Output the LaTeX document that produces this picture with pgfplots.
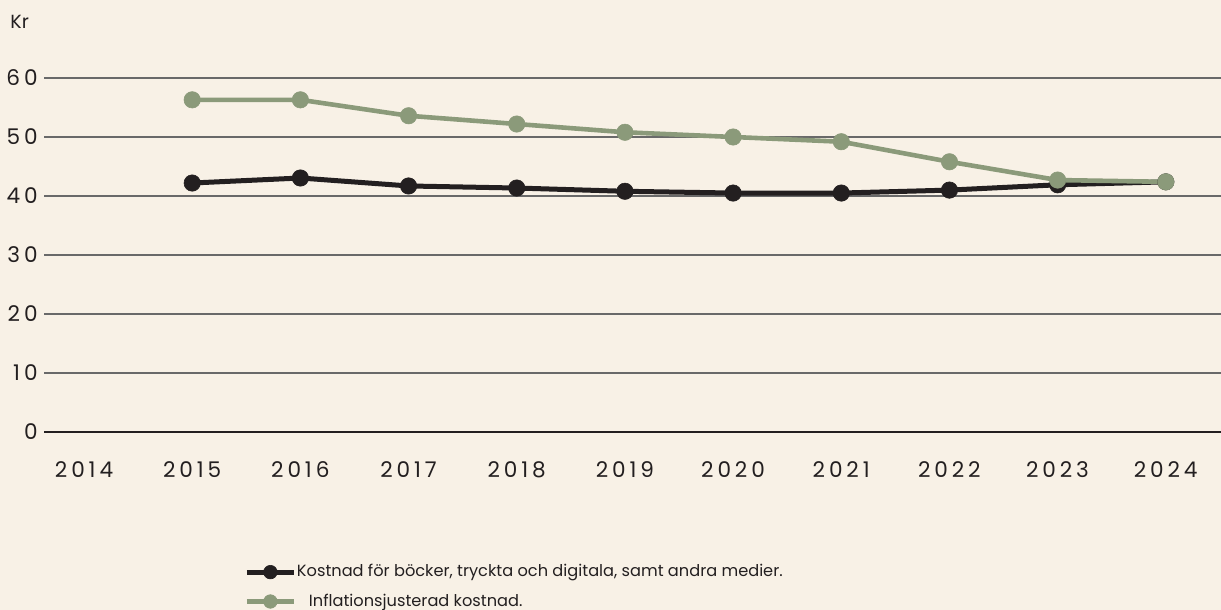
\documentclass[border=0pt]{standalone}
\usepackage{fontspec}
\setmainfont{Poppins}
\newfontfamily\tickfont[LetterSpace=18]{Poppins}
\usepackage{pgfplots}
\pgfplotsset{compat=1.18}
\definecolor{bg}{RGB}{248,241,230}
\definecolor{ink}{RGB}{35,31,32}
\definecolor{sage}{RGB}{139,154,122}
\definecolor{gridgray}{RGB}{105,105,105}

\begin{document}
\begin{tikzpicture}
\path[use as bounding box, fill=bg] (0pt,0pt) rectangle (610.5pt,305pt);
\node[anchor=west, inner sep=0pt, text=ink, font=\fontsize{9.5}{11}\selectfont] at (5pt,294pt) {Kr};
\begin{axis}[
    at={(22pt,89pt)}, anchor=south west,
    scale only axis, width=588.5pt, height=177pt,
    xmin=2013.63, xmax=2024.51, ymin=0, ymax=60,
    xtick={2014,...,2024}, ytick={10,20,...,60},
    extra y ticks={0},
    extra y tick style={grid style={ink, line width=0.6pt}},
    ymajorgrids, grid style={gridgray, line width=0.6pt},
    axis line style={draw=none}, major tick length=0pt,
    /pgf/number format/assume math mode=true,
    /pgf/number format/1000 sep={},
    ticklabel style={font=\tickfont\fontsize{10.8}{12}\selectfont, text=ink, inner sep=0pt},
    yticklabel style={anchor=east, xshift=-3pt},
    xticklabel style={anchor=north, yshift=-14.5pt},
    clip=false,
    legend style={at={(axis description cs:0.1699,-0.373)}, anchor=north west,
        draw=none, fill=none, inner sep=0pt, row sep=7pt,
        font=\fontsize{8.1}{9}\selectfont, text=ink,
        nodes={inner xsep=0.3pt, inner ysep=0pt}},
    legend cell align=left,
    legend image code/.code={
        \draw[mark repeat=2, mark phase=2, #1, mark size=3.4pt,
              mark options={line width=0.3pt}]
            plot coordinates {(0pt,0pt)(11.75pt,0pt)(23.5pt,0pt)};
    },
]
\addplot[ink, line width=2.5pt, mark=*, mark size=4.1pt,
         mark options={line width=0.3pt}] coordinates {
    (2015,42.2)(2016,43.05)(2017,41.7)(2018,41.35)(2019,40.8)
    (2020,40.5)(2021,40.5)(2022,41.0)(2023,41.9)(2024,42.4)
};
\addlegendentry{Kostnad för böcker, tryckta och digitala, samt andra medier.}
\addplot[sage, line width=2.3pt, mark=*, mark size=4.1pt,
         mark options={line width=0.3pt}] coordinates {
    (2015,56.3)(2016,56.3)(2017,53.6)(2018,52.2)(2019,50.8)
    (2020,50.0)(2021,49.2)(2022,45.8)(2023,42.7)(2024,42.4)
};
\addlegendentry{\hspace{6pt}Inflationsjusterad kostnad.}
\end{axis}
\end{tikzpicture}
\end{document}
